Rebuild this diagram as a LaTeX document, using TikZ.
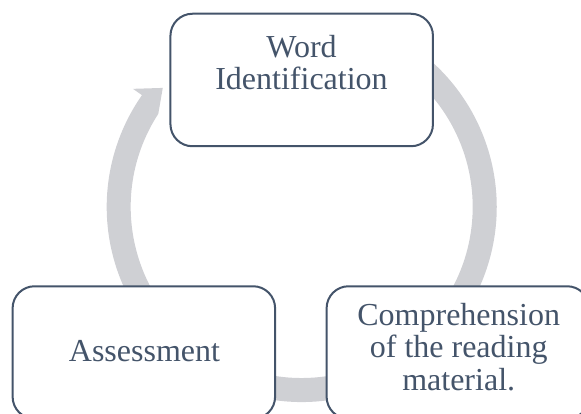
\documentclass[tikz,border=0pt]{standalone}
\usepackage{fontspec}
\setmainfont{Liberation Serif}
\usetikzlibrary{calc}
\definecolor{slate}{HTML}{44546A}
\definecolor{ring}{RGB}{207,208,212}
\begin{document}
\begin{tikzpicture}[x=1pt,y=1pt,
  stagebox/.style={draw=slate, line width=2pt, fill=white, rounded corners=22pt,
    minimum width=262.5pt, minimum height=132.5pt, inner sep=0pt},
  stagetext/.style={text=slate, font=\fontsize{32}{32.3}\selectfont, align=center,
    inner sep=0pt, anchor=base},
  ringband/.style={fill=ring, draw=none}]
\useasboundingbox (0,0) rectangle (581,413);
\clip (0,0) rectangle (581,413);
\coordinate (c) at (301.7,206);
% circular arrow running clockwise behind the three stages
\fill[ringband] ($(c)+(70:195)$) arc[start angle=70, end angle=-215, radius=195]
  -- ($(c)+(145:206)$) -- ($(c)+(139.4:183)$) -- ($(c)+(147:171)$)
  arc[start angle=-213, end angle=70, radius=171] -- cycle;
% stages (the base anchor of a multi-line text sits on its last line)
\node[stagebox] (wid) at (301.7,333) {};
\node[stagebox] (assess) at (143.85,60.5) {};
\node[stagebox] (comp) at (457.85,60.5) {};
\node[stagetext] (wid-text) at (301.5,323) {Word\\Identification};
\node[stagetext] (assess-text) at (144.5,51.3) {Assessment};
\node[stagetext] (comp-text) at (458.7,23) {Comprehension\\of the reading\\material.};
\end{tikzpicture}
\end{document}
